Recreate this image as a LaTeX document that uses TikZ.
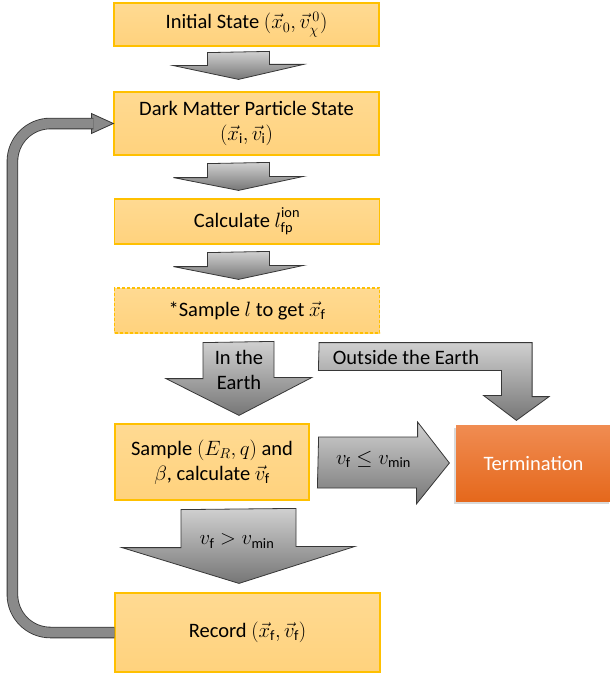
\documentclass[tikz,border=0pt]{standalone}
\usepackage{fontspec}
\setmainfont{Carlito}
\usetikzlibrary{calc,shadows}

\definecolor{boxline}{RGB}{255,192,0}
\definecolor{boxtop}{RGB}{255,218,146}
\definecolor{boxbot}{RGB}{255,210,125}
\definecolor{termtop}{RGB}{240,140,82}
\definecolor{termbot}{RGB}{229,104,28}
\definecolor{arrtop}{RGB}{208,208,208}
\definecolor{arrbot}{RGB}{118,118,118}
\definecolor{arrline}{RGB}{55,55,55}
\definecolor{loopgray}{RGB}{138,138,138}

\begin{document}
\begin{tikzpicture}[x=1pt,y=-1pt,font=\fontsize{20.5}{25}\selectfont,
    box/.style={draw=boxline,line width=1.2pt,top color=boxtop,bottom color=boxbot,
      inner sep=0pt,align=center,text=black},
    blockarrow/.style={draw=arrline,line width=.8pt,top color=arrtop,bottom color=arrbot}]

  \useasboundingbox (0,0) rectangle (610,677);

  \begin{scope}[every node/.style={box}]
    \node[minimum width=265pt,minimum height=43pt] (1) at (246.5,24.5) {Initial State $(\vec{x}_0,\vec{v}_\chi^{\,0})$};
    \node[minimum width=265pt,minimum height=63pt] (2) at (246.5,123.5) {Dark Matter Particle State\\$(\vec{x}_\mathrm{i},\vec{v}_\mathrm{i})$};
    \node[minimum width=265pt,minimum height=45pt] (3) at (247,221.5) {Calculate $l_{\mathrm{fp}}^{\raisebox{2pt}{$\scriptstyle\mathrm{ion}$}}$};
    \node[minimum width=265pt,minimum height=45pt,dash pattern=on 3pt off 2pt] (4) at (247,310.5) {*Sample $l$ to get $\vec{x}_\mathrm{f}$};
    \node[minimum width=194pt,minimum height=76pt] (5) at (212,462) {Sample $(E_R,q)$ and\\$\beta$, calculate $\vec{v}_\mathrm{f}$};
    \node[minimum width=265pt,minimum height=79pt] (6) at (247.5,632.5) {Record $(\vec{x}_\mathrm{f},\vec{v}_\mathrm{f})$};
    \node[draw=none,top color=termtop,bottom color=termbot,text=white,
      minimum width=155pt,minimum height=76pt,
      drop shadow={shadow xshift=-2pt,shadow yshift=-3pt,opacity=.3}] (7) at (533.5,463) {Termination};
  \end{scope}

  % straight down arrows
  \path[blockarrow] ($(1.south)+(-39,6)$) -- ++(0,13) -- ++(-34,0) -- ($(2.north)+(-8,-12)$)
    -- ++(65,-15) -- ++(-34,0) -- ++(0,-13) -- cycle;
  \path[blockarrow] ($(2.south)+(-39,8)$) -- ++(0,14) -- ++(-34,0) -- ($(3.north)+(-8.5,-8)$)
    -- ++(65,-14) -- ++(-34,0) -- ++(0,-14) -- cycle;
  \path[blockarrow] ($(3.south)+(-39.5,8)$) -- ++(0,14) -- ++(-34,0) -- ($(4.north)+(-8.5,-8)$)
    -- ++(65,-14) -- ++(-34,0) -- ++(0,-14) -- cycle;
  \path[blockarrow] ($(4.south)+(-44,9)$) -- ++(0,36) -- ++(-37,0) -- ($(5.north)+(27,-8)$)
    -- ++(73,-38) -- ++(-38,0) -- ++(0,-36) -- cycle;
  \path[blockarrow] ($(5.south)+(-31,9)$) -- ++(0,38) -- ++(-59,0) -- ($(6.north)+(-8.5,-9)$)
    -- ++(116,-37) -- ++(-59,0) -- ++(0,-38) -- cycle;

  % to termination
  \path[blockarrow] ($(5.east)+(9,-25)$) -- ++(99,0) -- ++(0,-15) -- ($(7.west)+(-6,0)$)
    -- ++(-33,41) -- ++(0,-16) -- ++(-99,0) -- cycle;
  \path[blockarrow] ($(4.south east)+(-61,9)$) -- ++(213,0) -- ++(0,54) -- ++(17,0)
    -- ($(7.north west)+(61,-4)$) -- ++(-33,-25) -- ++(18,0) -- ++(0,-25) -- ++(-183,0) -- cycle;

  % loop back
  \filldraw[fill=loopgray,draw=arrline,line width=.8pt] ([xshift=-22pt,yshift=10pt]2.west) -- (2.west)
    -- ([xshift=-22pt,yshift=-10pt]2.west) -- cycle;
  \draw[arrline,line width=11.5pt,rounded corners=38pt] (6.west) -- ++(-102,0) |- ([xshift=-20pt]2.west);
  \draw[loopgray,line width=9.8pt,rounded corners=38pt] (6.west) -- ++(-102,0) |- ([xshift=-20pt]2.west);

  \node (earth) at (239,369.5) [align=center] {In the\\Earth};
  \node (outside) at (406,357) {Outside the Earth};
  \node (stop) at (373.5,459) {$v_\mathrm{f}\le v_\mathrm{min}$};
  \node (go) at (237,541) {$v_\mathrm{f}>v_\mathrm{min}$};

\end{tikzpicture}
\end{document}
